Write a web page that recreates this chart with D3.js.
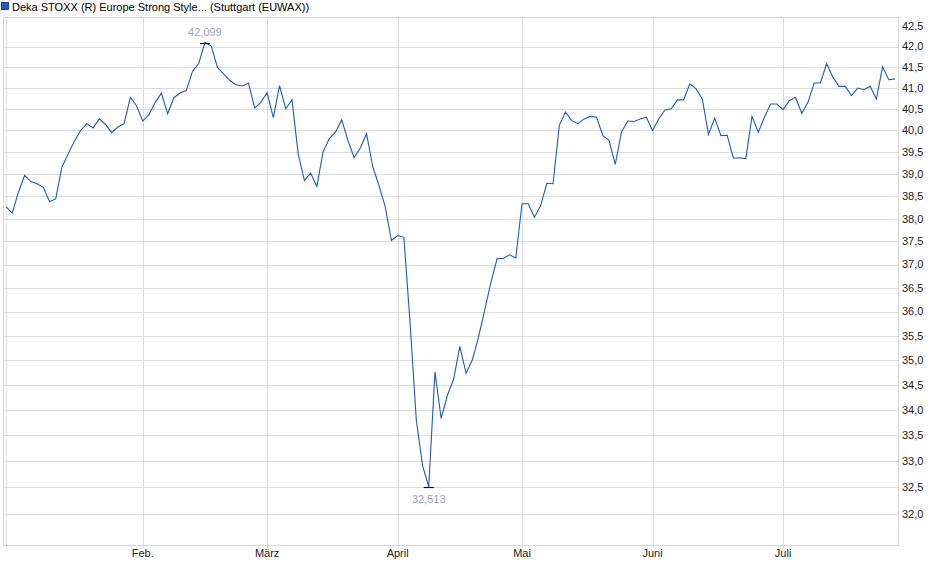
<html>
<head>
<meta charset="utf-8">
<style>
body { margin: 0; background: #fff; }
text { font-family: "Liberation Sans", Arial, sans-serif; font-size: 11px; }
</style>
</head>
<body>
<div id="chart"></div>
<script src="https://cdn.jsdelivr.net/npm/d3@7"></script>
<script>
// closing prices, one per trading day (2 Jan .. 25 Jul)
var prices = [
  38.27, 38.12, 38.59, 38.97, 38.83, 38.78, 38.70, 38.38, 38.44, 39.16,
  39.46, 39.75, 40.00, 40.16, 40.06, 40.27, 40.14, 39.95, 40.08, 40.16,
  40.78, 40.58, 40.22, 40.37, 40.66, 40.88, 40.39, 40.77, 40.88, 40.94,
  41.40, 41.59, 42.099, 42.02, 41.50, 41.34, 41.18, 41.08, 41.05, 41.12,
  40.53, 40.66, 40.89, 40.30, 41.06, 40.51, 40.72, 39.46, 38.85, 39.02,
  38.72, 39.50, 39.81, 39.96, 40.25, 39.77, 39.37, 39.60, 39.92, 39.16,
  38.74, 38.26, 37.52, 37.63, 37.59, 35.76, 33.80, 32.92, 32.513, 34.76,
  33.83, 34.29, 34.61, 35.28, 34.73, 35.00, 35.47, 36.03, 36.62, 37.13,
  37.13, 37.21, 37.14, 38.33, 38.33, 38.03, 38.29, 38.79, 38.78, 40.12,
  40.43, 40.23, 40.16, 40.27, 40.33, 40.31, 39.88, 39.77, 39.22, 39.96,
  40.22, 40.21, 40.27, 40.31, 40.00, 40.27, 40.48, 40.51, 40.72, 40.72,
  41.10, 40.98, 40.74, 39.91, 40.29, 39.88, 39.89, 39.36, 39.37, 39.35,
  40.33, 39.96, 40.31, 40.62, 40.62, 40.49, 40.70, 40.78, 40.40, 40.66,
  41.12, 41.12, 41.59, 41.26, 41.04, 41.04, 40.82, 41.00, 40.96, 41.04,
  40.74, 41.51, 41.20, 41.22
];

// first trading day of each month (index into prices)
var monthIdx = [0, 22, 42, 63, 83, 104, 125];
var monthLabels = ["", "Feb.", "März", "April", "Mai", "Juni", "Juli"];

var yTicks = d3.range(32, 42.51, 0.5);
var title = "Deka STOXX (R) Europe Strong Style... (Stuttgart (EUWAX))";

var W = 940, H = 579;
var pl = 3, pr = 898, pt = 17, pb = 545;

var svg = d3.select("#chart").append("svg")
    .attr("width", W).attr("height", H);

var x = d3.scaleLinear().domain([0, prices.length - 1]).range([6, 895]);
var y = d3.scaleLog().domain([31.43, 42.73]).range([pb, pt]);

var fmt = function (v, n) { return d3.format("." + n + "f")(v).replace(".", ","); };

// legend / title
svg.append("rect").attr("x", 1.5).attr("y", 2.5).attr("width", 7).attr("height", 7)
    .attr("fill", "#1c5bc0").attr("stroke", "#0a2a70").attr("stroke-width", 0.8);
svg.append("text").attr("x", 12).attr("y", 10.5).attr("fill", "#000").text(title);

// horizontal grid
svg.selectAll(".hg").data(yTicks.filter(function (d) { return d < 42.4; }))
    .enter().append("line")
    .attr("x1", pl).attr("x2", pr)
    .attr("y1", function (d) { return Math.round(y(d)) + 0.5; })
    .attr("y2", function (d) { return Math.round(y(d)) + 0.5; })
    .attr("stroke", "#dcdcdc");

// vertical grid at month starts
svg.selectAll(".vg").data(monthIdx).enter().append("line")
    .attr("x1", function (d) { return Math.round(x(d)) + 0.5; })
    .attr("x2", function (d) { return Math.round(x(d)) + 0.5; })
    .attr("y1", pt).attr("y2", pb + 3)
    .attr("stroke", "#dcdcdc");

// frame
svg.append("rect").attr("x", pl + 0.5).attr("y", pt + 0.5)
    .attr("width", pr - pl).attr("height", pb - pt)
    .attr("fill", "none").attr("stroke", "#d4d4d4");

// y labels
svg.selectAll(".yl").data(yTicks).enter().append("text")
    .attr("x", 902).attr("y", function (d) { return y(d); })
    .attr("dy", "0.35em").attr("fill", "#222")
    .text(function (d) { return fmt(d, 1); });

// month labels
svg.selectAll(".ml").data(monthIdx).enter().append("text")
    .attr("x", function (d) { return x(d); }).attr("y", 557)
    .attr("text-anchor", "middle").attr("fill", "#222")
    .text(function (d, i) { return monthLabels[i]; });

// price line
var line = d3.line()
    .x(function (d, i) { return x(i); })
    .y(function (d) { return y(d); });
svg.append("path").datum(prices).attr("d", line)
    .attr("fill", "none").attr("stroke", "#1c5bc0").attr("stroke-width", 1.1);

// high / low markers
var hi = d3.maxIndex(prices), lo = d3.minIndex(prices);
[[hi, -8], [lo, 15]].forEach(function (m) {
    var px = x(m[0]), py = Math.round(y(prices[m[0]])) + 0.5;
    svg.append("line").attr("x1", px - 5).attr("x2", px + 5)
        .attr("y1", py).attr("y2", py).attr("stroke", "#000").attr("stroke-width", 1.2);
    svg.append("text").attr("x", px).attr("y", py + m[1])
        .attr("text-anchor", "middle").attr("fill", "#9aa5b8")
        .text(fmt(prices[m[0]], 3));
});
</script>
</body>
</html>
